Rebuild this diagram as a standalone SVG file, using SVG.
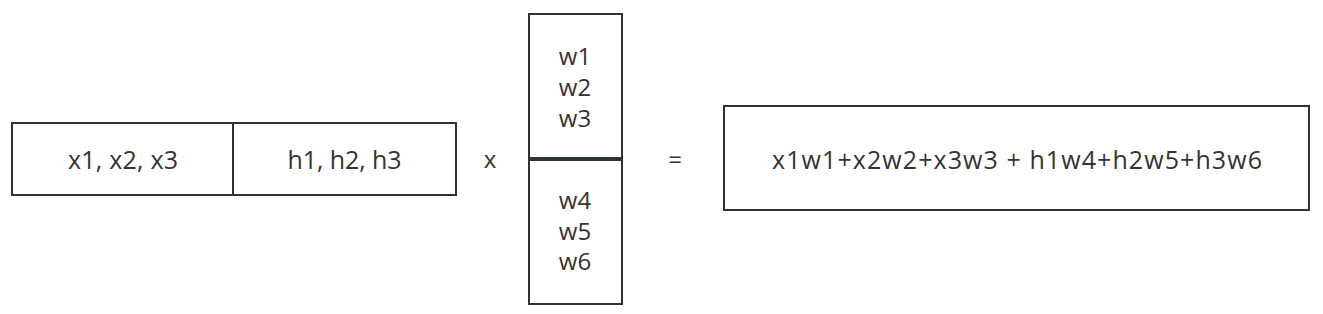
<svg xmlns="http://www.w3.org/2000/svg" width="1323" height="314" viewBox="0 0 1323 314">
<style>
.box{fill:#ffffff;stroke:#2e3338;stroke-width:2}
.t{font-family:"Open Sans","Noto Sans","Liberation Sans",sans-serif;font-size:24px;fill:#333333;text-anchor:middle}
.l{font-size:25px}
</style>
<rect width="1323" height="314" fill="#ffffff"/>
<g id="node-x">
<rect class="box" x="12" y="123" width="221" height="72"/>
<text class="t l" x="123" y="169" textLength="110">x1, x2, x3</text>
</g>
<g id="node-h">
<rect class="box" x="233" y="123" width="223" height="72"/>
<text class="t l" x="344.5" y="169" textLength="114">h1, h2, h3</text>
</g>
<g id="op-mul">
<text class="t" x="490" y="168">x</text>
</g>
<g id="node-w-top">
<rect class="box" x="529" y="14" width="93" height="144"/>
<text class="t" x="575" y="65">w1</text>
<text class="t" x="575" y="96">w2</text>
<text class="t" x="575" y="127">w3</text>
</g>
<g id="node-w-bottom">
<rect class="box" x="529" y="160" width="93" height="144"/>
<text class="t" x="575" y="209">w4</text>
<text class="t" x="575" y="239.5">w5</text>
<text class="t" x="575" y="270">w6</text>
</g>
<g id="op-eq">
<text class="t" x="675" y="168">=</text>
</g>
<g id="node-result">
<rect class="box" x="724" y="106" width="585" height="104"/>
<text class="t l" x="1017" y="169" textLength="490">x1w1+x2w2+x3w3 + h1w4+h2w5+h3w6</text>
</g>
<g id="connectors"></g>
</svg>
